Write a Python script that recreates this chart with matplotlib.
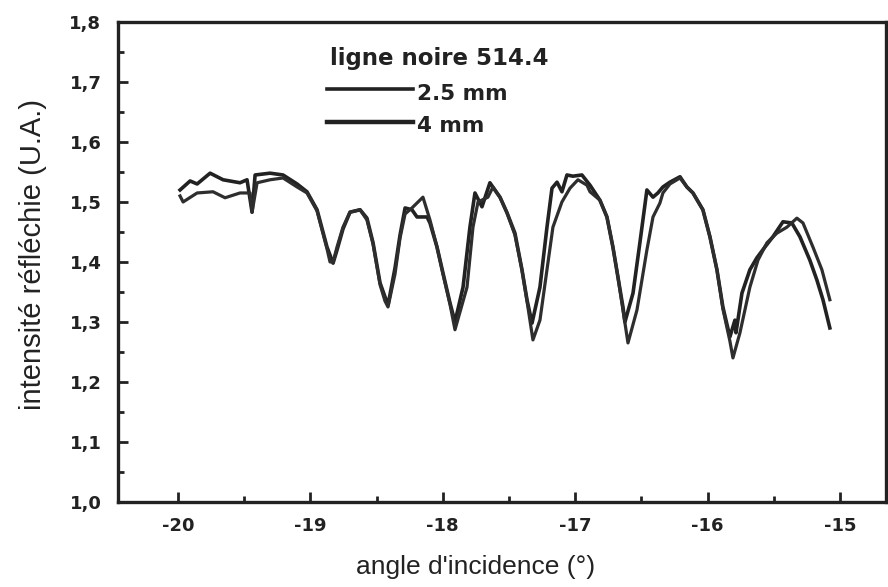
import matplotlib
matplotlib.use("Agg")
import matplotlib.pyplot as plt
from matplotlib.ticker import MultipleLocator, FuncFormatter
from matplotlib.lines import Line2D

plt.rcParams["font.family"] = ["Liberation Sans", "DejaVu Sans"]

# 4 mm trace (the one that rises first after each dip)
x_4mm = [-19.985, -19.909, -19.856, -19.758, -19.660, -19.532, -19.479, -19.441,
         -19.418, -19.305, -19.207, -19.101, -19.026, -18.950, -18.875, -18.829,
         -18.799, -18.754, -18.701, -18.625, -18.573, -18.527, -18.474, -18.437,
         -18.414, -18.361, -18.323, -18.285, -18.233, -18.195, -18.119, -18.097,
         -18.044, -17.999, -17.946, -17.908, -17.847, -17.795, -17.757, -17.704,
         -17.644, -17.591, -17.568, -17.515, -17.455, -17.402, -17.364, -17.326,
         -17.266, -17.213, -17.175, -17.137, -17.100, -17.062, -17.017, -16.949,
         -16.888, -16.813, -16.760, -16.715, -16.677, -16.639, -16.624, -16.563,
         -16.511, -16.458, -16.412, -16.375, -16.337, -16.284, -16.208, -16.156,
         -16.110, -16.035, -15.982, -15.929, -15.884, -15.831, -15.793, -15.785,
         -15.740, -15.680, -15.627, -15.566, -15.506, -15.430, -15.363, -15.302,
         -15.227, -15.174, -15.128, -15.076]
y_4mm = [1.520, 1.535, 1.530, 1.548, 1.537, 1.532, 1.537, 1.483,
         1.545, 1.548, 1.545, 1.530, 1.517, 1.487, 1.425, 1.398,
         1.420, 1.455, 1.483, 1.487, 1.473, 1.432, 1.365, 1.342,
         1.328, 1.390, 1.445, 1.490, 1.487, 1.475, 1.475, 1.465,
         1.425, 1.382, 1.332, 1.300, 1.358, 1.458, 1.515, 1.492,
         1.532, 1.515, 1.508, 1.482, 1.448, 1.387, 1.337, 1.298,
         1.358, 1.458, 1.523, 1.533, 1.517, 1.545, 1.543, 1.545,
         1.528, 1.503, 1.475, 1.425, 1.375, 1.325, 1.300, 1.348,
         1.432, 1.520, 1.508, 1.515, 1.525, 1.533, 1.542, 1.525,
         1.515, 1.487, 1.442, 1.387, 1.325, 1.275, 1.303, 1.282,
         1.348, 1.387, 1.407, 1.425, 1.442, 1.467, 1.465, 1.442,
         1.403, 1.370, 1.337, 1.290]

# 2.5 mm trace (deeper dips, lags slightly)
x_25mm = [-19.985, -19.962, -19.856, -19.736, -19.645, -19.532, -19.456, -19.441,
          -19.403, -19.305, -19.207, -19.101, -19.026, -18.950, -18.875, -18.852,
          -18.829, -18.799, -18.754, -18.701, -18.625, -18.573, -18.527, -18.474,
          -18.437, -18.414, -18.361, -18.323, -18.285, -18.233, -18.150, -18.097,
          -18.044, -17.999, -17.946, -17.908, -17.817, -17.772, -17.734, -17.659,
          -17.621, -17.568, -17.515, -17.455, -17.402, -17.364, -17.319, -17.266,
          -17.213, -17.168, -17.100, -17.039, -16.979, -16.911, -16.888, -16.813,
          -16.760, -16.715, -16.677, -16.639, -16.601, -16.533, -16.458, -16.412,
          -16.360, -16.337, -16.284, -16.208, -16.156, -16.110, -16.035, -15.982,
          -15.929, -15.884, -15.831, -15.808, -15.755, -15.680, -15.619, -15.551,
          -15.476, -15.400, -15.325, -15.279, -15.204, -15.136, -15.076]
y_25mm = [1.510, 1.500, 1.515, 1.517, 1.507, 1.515, 1.515, 1.483,
          1.532, 1.537, 1.540, 1.525, 1.515, 1.485, 1.422, 1.400,
          1.400, 1.425, 1.458, 1.483, 1.487, 1.470, 1.430, 1.362,
          1.335, 1.325, 1.380, 1.440, 1.480, 1.490, 1.508, 1.470,
          1.425, 1.380, 1.330, 1.287, 1.358, 1.458, 1.500, 1.508,
          1.525, 1.508, 1.482, 1.445, 1.387, 1.335, 1.270, 1.303,
          1.387, 1.458, 1.500, 1.523, 1.537, 1.528, 1.517, 1.503,
          1.475, 1.425, 1.375, 1.320, 1.265, 1.320, 1.420, 1.475,
          1.498, 1.515, 1.530, 1.540, 1.525, 1.515, 1.487, 1.442,
          1.387, 1.322, 1.268, 1.240, 1.282, 1.358, 1.403, 1.432,
          1.448, 1.458, 1.473, 1.465, 1.425, 1.387, 1.337]

INK = "#222222"
BOLD = ["DejaVu Sans"]

fig = plt.figure(figsize=(8.88, 5.87), dpi=100)
ax = fig.add_axes([0.133, 0.145, 0.865, 0.8175])

ax.plot(x_4mm, y_4mm, color=INK, lw=2.6)
ax.plot(x_25mm, y_25mm, color="#2e2e2e", lw=2.3)

ax.set_xlim(-20.453, -14.65)
ax.set_ylim(1.0, 1.8)
ax.xaxis.set_major_locator(MultipleLocator(1))
ax.xaxis.set_minor_locator(MultipleLocator(0.5))
ax.yaxis.set_major_locator(MultipleLocator(0.1))
ax.yaxis.set_minor_locator(MultipleLocator(0.05))
ax.yaxis.set_major_formatter(FuncFormatter(lambda v, p: f"{v:.1f}".replace(".", ",")))
ax.xaxis.set_major_formatter(FuncFormatter(lambda v, p: f"{v:.0f}"))
ax.tick_params(which="both", direction="in", color=INK)
ax.tick_params(which="major", length=7, width=2)
ax.tick_params(which="minor", length=4, width=2)
ax.tick_params(axis="x", pad=11)
ax.tick_params(axis="y", pad=12)
for lab in ax.get_xticklabels() + ax.get_yticklabels():
    lab.set_family(BOLD)
    lab.set_fontweight("bold")
    lab.set_fontsize(13)
    lab.set_color(INK)
for s in ax.spines.values():
    s.set_linewidth(2.4)
    s.set_color(INK)

ax.set_xlabel("angle d'incidence (°)", fontsize=19, color=INK)
ax.set_ylabel("intensité réfléchie (U.A.)", fontsize=21, color=INK)
ax.xaxis.set_label_coords(0.465, -0.11)
ax.yaxis.set_label_coords(-0.093, 0.515)

# hand-drawn style legend
ax.text(0.276, 0.910, "ligne noire 514.4", transform=ax.transAxes, fontsize=16.5,
        family=BOLD, fontweight="bold", va="baseline", ha="left", color=INK)
ax.add_line(Line2D([0.272, 0.384], [0.860, 0.860], transform=ax.transAxes,
                   color=INK, lw=2.6))
ax.text(0.389, 0.8375, "2.5 mm", transform=ax.transAxes, fontsize=15.5,
        family=BOLD, fontweight="bold", va="baseline", ha="left", color=INK)
ax.add_line(Line2D([0.272, 0.384], [0.792, 0.792], transform=ax.transAxes,
                   color=INK, lw=3.2))
ax.text(0.389, 0.771, "4 mm", transform=ax.transAxes, fontsize=15.5,
        family=BOLD, fontweight="bold", va="baseline", ha="left", color=INK)

fig.savefig("out.png", dpi=100)
